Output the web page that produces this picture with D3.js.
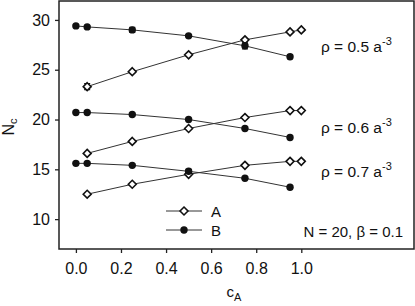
<!DOCTYPE html>
<html>
<head>
<meta charset="utf-8">
<script src="https://cdn.jsdelivr.net/npm/d3@7"></script>
<style>
  body { margin: 0; background: #fff; }
  svg { display: block; font-family: "Liberation Sans", Arial, sans-serif; }
</style>
</head>
<body>
<svg width="415" height="306"></svg>
<script>
// c_A values for each species
var xA = [0.05, 0.25, 0.5, 0.75, 0.95, 1.0]
var xB = [0.0, 0.05, 0.25, 0.5, 0.75, 0.95]

// N_c per density
var rhos = ["0.5", "0.6", "0.7"]
var seriesA = [
  [23.3, 24.8, 26.5, 28.0, 28.8, 29.0],
  [16.6, 17.8, 19.1, 20.2, 20.9, 20.9],
  [12.5, 13.5, 14.5, 15.4, 15.8, 15.8]
]
var seriesB = [
  [29.4, 29.3, 29.0, 28.4, 27.4, 26.3],
  [20.7, 20.7, 20.5, 20.0, 19.1, 18.2],
  [15.6, 15.6, 15.4, 14.8, 14.1, 13.2]
]
var errA = [
  [0.3, 0.1, 0.1, 0.1, 0.1, 0.1],
  [0.1, 0.1, 0.1, 0.1, 0.1, 0.1],
  [0.1, 0.1, 0.1, 0.1, 0.1, 0.1]
]
var errB = [
  [0.1, 0.1, 0.25, 0.1, 0.3, 0.2],
  [0.1, 0.1, 0.1, 0.1, 0.1, 0.1],
  [0.1, 0.1, 0.1, 0.2, 0.1, 0.1]
]
var labelY = [27.3, 19.15, 14.72]

var xTicks = [0, 0.2, 0.4, 0.6, 0.8, 1.0]
var yTicks = [10, 15, 20, 25, 30]

var margin = {top: 1, right: 1, bottom: 57, left: 59}
var width = 415, height = 306

var svg = d3.select("svg")

var x = d3.scaleLinear()
  .domain([-0.075, 1.5])
  .range([margin.left, width - margin.right])

var y = d3.scaleLinear()
  .domain([7, 31.9])
  .range([height - margin.bottom, margin.top])

// frame
svg.append("rect")
  .attr("x", margin.left).attr("y", margin.top)
  .attr("width", width - margin.right - margin.left)
  .attr("height", height - margin.bottom - margin.top)
  .attr("fill", "none").attr("stroke", "#222").attr("stroke-width", 1.5)

xAxis = g => g
  .attr("transform", `translate(0,${height - margin.bottom})`)
  .call(d3.axisBottom(x).tickValues(xTicks).tickFormat(d3.format(".1f")).tickSize(4).tickPadding(10).tickSizeOuter(0))
  .call(g => g.select(".domain").remove())

yAxis = g => g
  .attr("transform", `translate(${margin.left},0)`)
  .call(d3.axisLeft(y).tickValues(yTicks).tickSize(4).tickPadding(5).tickSizeOuter(0))
  .call(g => g.select(".domain").remove())

svg.append("g").call(xAxis)
svg.append("g").call(yAxis)

svg.selectAll(".tick line").attr("stroke", "#222").attr("stroke-width", 1.3)
svg.selectAll(".tick text").attr("font-size", 16).attr("fill", "#111")
  .attr("font-family", "Liberation Sans, Arial, sans-serif")

// axis titles
svg.append("text")
  .attr("transform", "translate(14,127) rotate(-90)")
  .attr("text-anchor", "middle").attr("font-size", 16).attr("fill", "#111")
  .html('N<tspan font-size="11" dy="3">c</tspan>')

svg.append("text")
  .attr("x", 234).attr("y", 297)
  .attr("text-anchor", "middle").attr("font-size", 15).attr("fill", "#111")
  .html('c<tspan font-size="11" dy="4">A</tspan>')

var line = d3.line().x(d => x(d[0])).y(d => y(d[1]))

function drawSeries(xs, ys, es, kind) {
  var pts = xs.map((v, i) => [v, ys[i], es[i]])
  var g = svg.append("g")
  g.append("path").datum(pts)
    .attr("d", line).attr("fill", "none")
    .attr("stroke", "#333").attr("stroke-width", 1)
  // error bars
  g.selectAll(".err").data(pts).join("path")
    .attr("d", d => `M${x(d[0]) - 3},${y(d[1] - d[2])}h6M${x(d[0])},${y(d[1] - d[2])}V${y(d[1] + d[2])}M${x(d[0]) - 3},${y(d[1] + d[2])}h6`)
    .attr("stroke", "#111").attr("stroke-width", 1.2).attr("fill", "none")
  if (kind === "A") {
    g.selectAll(".m").data(pts).join("path")
      .attr("d", d3.symbol(d3.symbolDiamond2, 40))
      .attr("transform", d => `translate(${x(d[0])},${y(d[1])})`)
      .attr("fill", "#fff").attr("stroke", "#111").attr("stroke-width", 1.6)
  } else {
    g.selectAll(".m").data(pts).join("circle")
      .attr("cx", d => x(d[0])).attr("cy", d => y(d[1])).attr("r", 3.7)
      .attr("fill", "#111")
  }
}

rhos.forEach((r, i) => {
  drawSeries(xA, seriesA[i], errA[i], "A")
  drawSeries(xB, seriesB[i], errB[i], "B")
  svg.append("text")
    .attr("x", 321).attr("y", y(labelY[i]) + 5)
    .attr("font-size", 15.5).attr("fill", "#111")
    .html(`ρ = ${r} a<tspan font-size="11" dy="-7">-3</tspan>`)
})

// legend
var legend = [["A", 211], ["B", 230]]
legend.forEach(l => {
  var g = svg.append("g")
  g.append("line").attr("x1", 166).attr("x2", 202).attr("y1", l[1]).attr("y2", l[1])
    .attr("stroke", "#333").attr("stroke-width", 1)
  if (l[0] === "A") {
    g.append("path").attr("d", d3.symbol(d3.symbolDiamond2, 40))
      .attr("transform", `translate(184,${l[1]})`)
      .attr("fill", "#fff").attr("stroke", "#111").attr("stroke-width", 1.6)
  } else {
    g.append("circle").attr("cx", 184).attr("cy", l[1]).attr("r", 3.7).attr("fill", "#111")
  }
  g.append("text").attr("x", 211).attr("y", l[1] + 6)
    .attr("font-size", 15).attr("fill", "#111").text(l[0])
})

svg.append("text")
  .attr("x", 403).attr("y", 237).attr("text-anchor", "end")
  .attr("font-size", 15).attr("fill", "#111")
  .text("N = 20, β = 0.1")
</script>
</body>
</html>
